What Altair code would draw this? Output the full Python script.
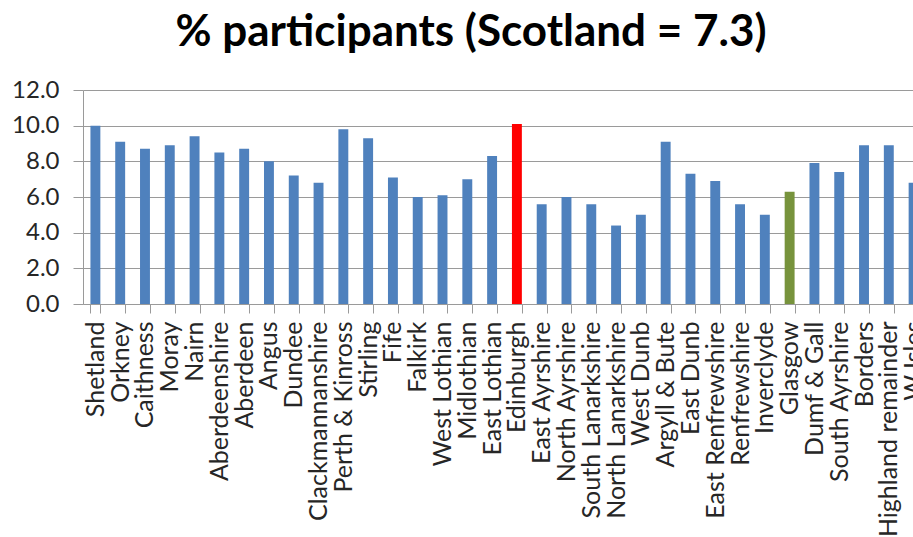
import altair as alt
import pandas as pd

areas = [
    "Shetland", "Orkney", "Caithness", "Moray", "Nairn", "Aberdeenshire",
    "Aberdeen", "Angus", "Dundee", "Clackmannanshire", "Perth & Kinross",
    "Stirling", "Fife", "Falkirk", "West Lothian", "Midlothian",
    "East Lothian", "Edinburgh", "East Ayrshire", "North Ayrshire",
    "South Lanarkshire", "North Lanarkshire", "West Dunb", "Argyll & Bute",
    "East Dunb", "East Renfrewshire", "Renfrewshire", "Inverclyde",
    "Glasgow", "Dumf & Gall", "South Ayrshire", "Borders",
    "Highland remainder", "W Isles",
]
pct = [
    10.0, 9.1, 8.7, 8.9, 9.4, 8.5,
    8.7, 8.0, 7.2, 6.8, 9.8,
    9.3, 7.1, 6.0, 6.1, 7.0,
    8.3, 10.1, 5.6, 6.0,
    5.6, 4.4, 5.0, 9.1,
    7.3, 6.9, 5.6, 5.0,
    6.3, 7.9, 7.4, 8.9,
    8.9, 6.8,
]
highlight = {"Edinburgh": "#FF0000", "Glasgow": "#77933C"}
default_colour = "#4F81BD"

df = pd.DataFrame({"area": areas, "pct": pct})
df["colour"] = [highlight.get(a, default_colour) for a in areas]

FONT = "Lato"
view_w = 830      # visible part of the plot
band_span = 843   # full category span, runs past the right edge

chart = (
    alt.Chart(df)
    .mark_bar()
    .encode(
        x=alt.X(
            "area:N",
            sort=areas,
            scale=alt.Scale(range=[0, band_span], paddingInner=0.6, paddingOuter=0.3),
            axis=alt.Axis(
                title=None,
                labelAngle=270,
                labelFontSize=25,
                labelFont=FONT,
                labelColor="#262626",
                labelPadding=8,
                tickBand="extent",
                tickSize=9,
                tickColor="#9a9a9a",
                domainColor="#9a9a9a",
                labelLimit=0,
                grid=False,
            ),
        ),
        y=alt.Y(
            "pct:Q",
            scale=alt.Scale(domain=[0, 12], nice=False),
            axis=alt.Axis(
                title=None,
                values=[0, 2, 4, 6, 8, 10, 12],
                format=".1f",
                labelFontSize=24,
                labelFont=FONT,
                labelColor="#262626",
                labelPadding=14,
                tickSize=10,
                tickColor="#9a9a9a",
                domainColor="#9a9a9a",
                gridColor="#9a9a9a",
                gridWidth=1.2,
            ),
        ),
        color=alt.Color("colour:N", scale=None, legend=None),
    )
    .properties(
        width=view_w,
        height=214,
        title=alt.TitleParams(
            "% participants (Scotland = 7.3)",
            font=FONT,
            fontSize=44,
            fontWeight="bold",
            color="#000000",
            anchor="middle",
            dx=-27,
            offset=23,
        ),
        autosize=alt.AutoSizeParams(type="none"),
        padding={"left": 83, "top": 90, "right": 0, "bottom": 233},
    )
    .configure_view(stroke=None)
)

chart.save("out.html", embed_options={"renderer": "svg", "actions": False})
